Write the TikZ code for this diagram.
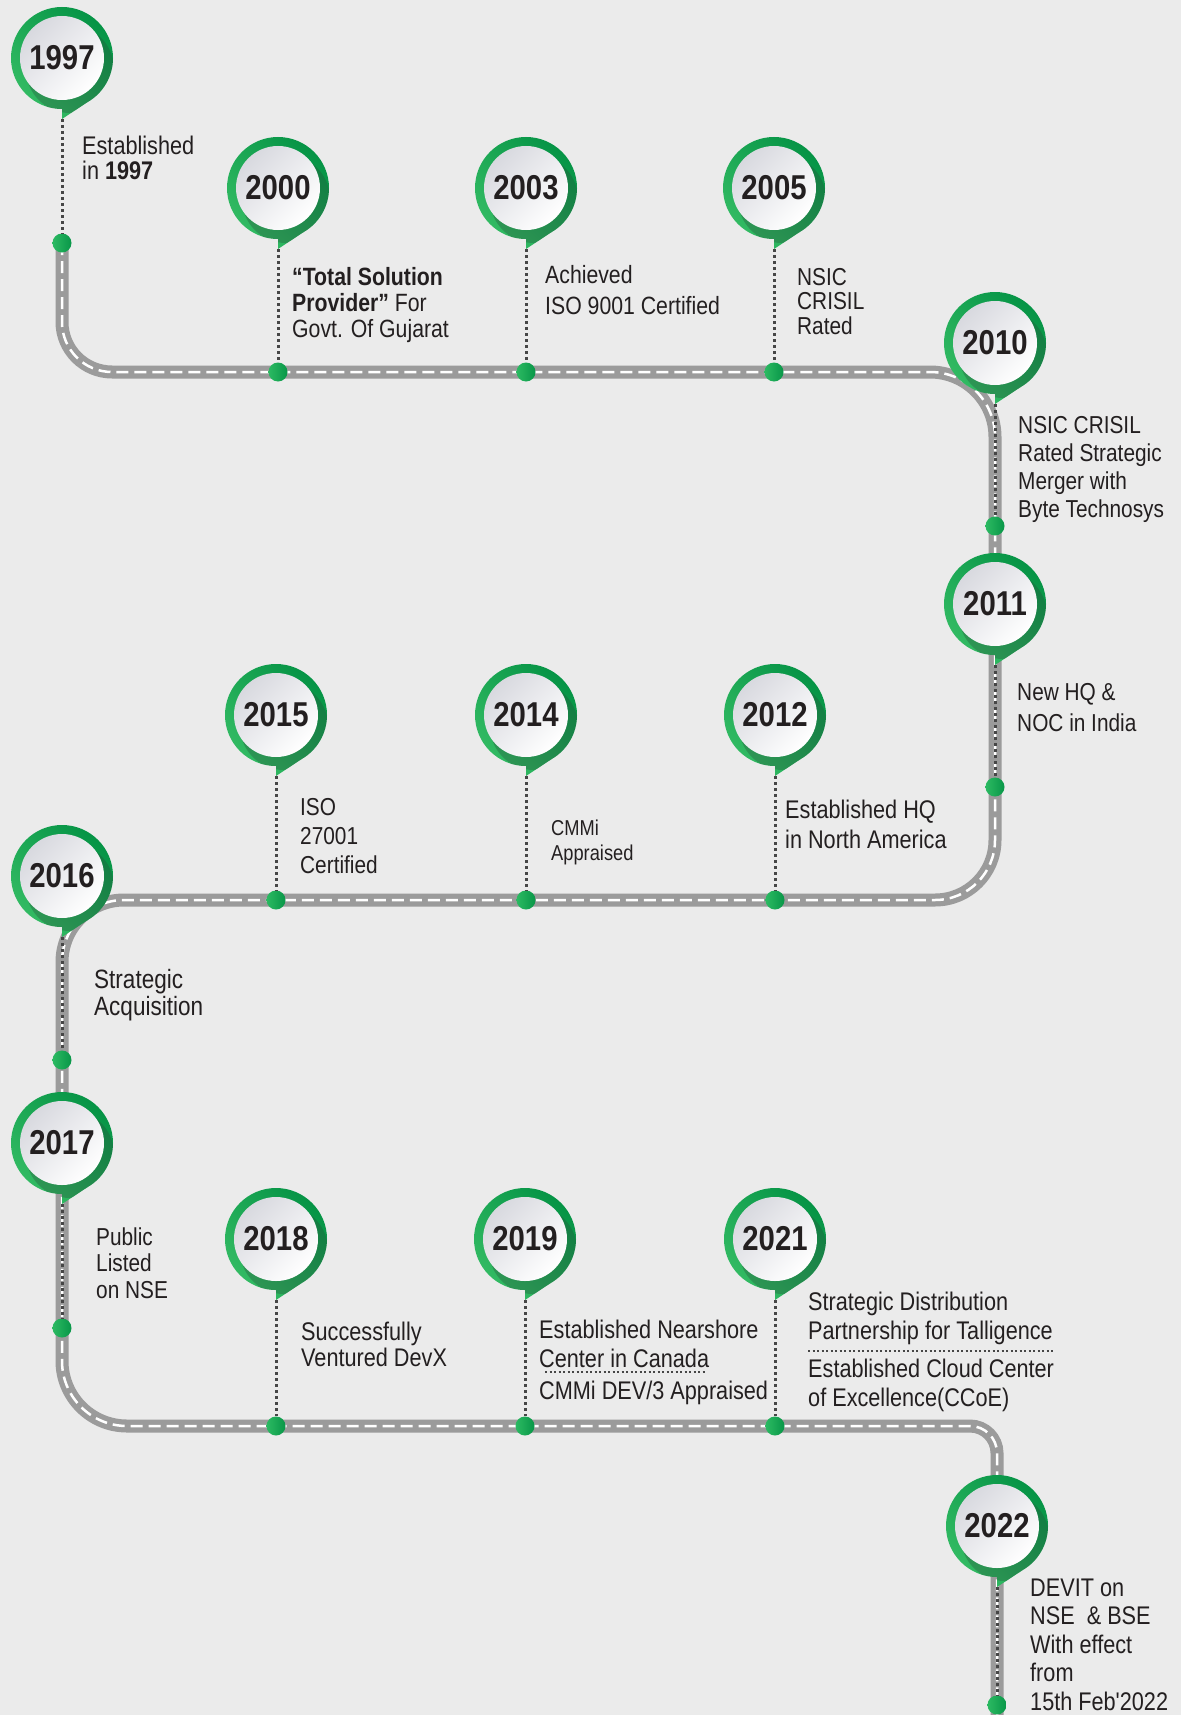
\documentclass[tikz,border=0pt]{standalone}
\usepackage{fontspec}
\setmainfont{Liberation Sans}[FakeStretch=0.85, Ligatures=TeXOff]
\definecolor{bg}{RGB}{235,235,235}
\definecolor{roadc}{RGB}{155,155,155}
\definecolor{pinL}{RGB}{52,188,100}
\definecolor{pinR}{RGB}{6,148,70}
\definecolor{dotL}{RGB}{44,186,98}
\definecolor{dotR}{RGB}{8,150,72}
\definecolor{txt}{RGB}{35,31,32}
\definecolor{dotc}{RGB}{70,70,70}
\definecolor{wtop}{RGB}{216,217,223}
\definecolor{shadowc}{RGB}{40,70,55}
\newcommand{\fsz}[2]{\fontsize{#1}{#2}\selectfont}
\newcommand{\pinoutline}{(0,-61) -- (0,-51) arc[start angle=270,end angle=-60,radius=51] -- cycle}
\newcommand{\yearpin}[3]{%
 \begin{scope}[shift={(#2,-#3)}]
  \shade[top color=pinL, bottom color=pinR, shading angle=135] \pinoutline;
  \begin{scope}
   \clip \pinoutline;
   \fill[shadowc, opacity=0.30] (8,-11) circle[radius=44];
  \end{scope}
  \shade[top color=wtop, bottom color=white, shading angle=45] (0,0) circle[radius=42];
  \node[yearlbl] (y#1) at (0,0) {#1};
  \coordinate (t#1) at (0,-61);
 \end{scope}}
\tikzset{
 roadbase/.style={draw=roadc, line width=13pt},
 roaddash/.style={draw=white, line width=2.5pt, dash pattern=on 12pt off 6pt},
 dotlink/.style={draw=dotc, line width=3pt, dash pattern=on 3pt off 3pt},
 sepline/.style={draw=dotc, line width=1.2pt, dash pattern=on 2pt off 2.5pt},
 dotnode/.style={circle, minimum size=19pt, inner sep=0pt, left color=dotL, right color=dotR},
 yearlbl/.style={font=\bfseries\fsz{34.5}{34.5}, text=txt, inner sep=0pt},
 lbl/.style={anchor=base west, align=left, inner sep=0pt, text=txt}
}
\begin{document}
\begin{tikzpicture}[x=1pt,y=1pt]
\useasboundingbox (0,0) rectangle (1181,-1715);
\fill[bg] (0,0) rectangle (1181,-1715);
% road
\newcommand{\roadpath}{(62,-243) -- (62,-322) arc[start angle=180,end angle=270,radius=50]
 -- (930,-372) arc[start angle=90,end angle=0,radius=65]
 -- (995,-840) arc[start angle=0,end angle=-90,radius=60]
 -- (124,-900) arc[start angle=90,end angle=180,radius=62]
 -- (62,-1361) arc[start angle=180,end angle=270,radius=65]
 -- (970,-1426) arc[start angle=90,end angle=0,radius=27]
 -- (997,-1730)}
\path[roadbase] \roadpath;
\path[roaddash] \roadpath;
% pins
\yearpin{1997}{62}{58}
\yearpin{2000}{278}{188}
\yearpin{2003}{526}{188}
\yearpin{2005}{774}{188}
\yearpin{2010}{995}{343}
\yearpin{2011}{995}{604}
\yearpin{2015}{276}{715}
\yearpin{2014}{526}{715}
\yearpin{2012}{775}{715}
\yearpin{2016}{62}{876}
\yearpin{2017}{62}{1143}
\yearpin{2018}{276}{1239}
\yearpin{2019}{525}{1239}
\yearpin{2021}{775}{1239}
\yearpin{2022}{997}{1526}
% dots
\node[dotnode] (d1997) at (62,-243) {};
\node[dotnode] (d2000) at (278,-372) {};
\node[dotnode] (d2003) at (526,-372) {};
\node[dotnode] (d2005) at (774,-372) {};
\node[dotnode] (d2010) at (995,-526) {};
\node[dotnode] (d2011) at (995,-787) {};
\node[dotnode] (d2015) at (276,-900) {};
\node[dotnode] (d2014) at (526,-900) {};
\node[dotnode] (d2012) at (775,-900) {};
\node[dotnode] (d2016) at (62,-1060) {};
\node[dotnode] (d2017) at (62,-1328) {};
\node[dotnode] (d2018) at (276,-1426) {};
\node[dotnode] (d2019) at (525,-1426) {};
\node[dotnode] (d2021) at (775,-1426) {};
\node[dotnode] (d2022) at (997,-1705) {};
% dotted links
\foreach \yr in {1997,2000,2003,2005,2010,2011,2015,2014,2012,2016,2017,2018,2019,2021,2022}
 \path[dotlink] (t\yr) -- (d\yr.north);
% texts (anchored at the baseline of their last line)
\node[lbl, font=\fsz{25.5}{25}] (l1997) at (82,-180) {Established\\in \textbf{1997}};
\node[lbl, font=\fsz{25}{26}] (l2000) at (292,-337) {\textbf{“Total Solution}\\\textbf{Provider”} For\\Govt. Of Gujarat};
\node[lbl, font=\fsz{25}{31}] (l2003) at (545,-314) {Achieved\\ISO 9001 Certified};
\node[lbl, font=\fsz{24.5}{24.5}] (l2005) at (797,-334) {NSIC\\CRISIL\\Rated};
\node[lbl, font=\fsz{24.5}{28}] (l2010) at (1018,-517) {NSIC CRISIL\\Rated Strategic\\Merger with\\Byte Technosys};
\node[lbl, font=\fsz{24.5}{31}] (l2011) at (1017,-731) {New HQ \&\\NOC in India};
\node[lbl, font=\fsz{24.5}{29}] (l2015) at (300,-873) {ISO\\27001\\Certified};
\node[lbl, font=\fsz{21.5}{25}] (l2014) at (551,-860) {CMMi\\Appraised};
\node[lbl, font=\fsz{25.5}{30}] (l2012) at (785,-848) {Established HQ\\in North America};
\node[lbl, font=\fsz{26.5}{27}] (l2016) at (94,-1015) {Strategic\\Acquisition};
\node[lbl, font=\fsz{24.5}{26.5}] (l2017) at (96,-1298) {Public\\Listed\\on NSE};
\node[lbl, font=\fsz{25.5}{26}] (l2018) at (301,-1366) {Successfully\\Ventured DevX};
\node[lbl, font=\fsz{25.5}{29}] (l2019) at (539,-1399) {Established Nearshore\\Center in Canada\\[3pt]CMMi DEV/3 Appraised};
\node[lbl, font=\fsz{25.5}{29}] (l2021) at (808,-1406) {Strategic Distribution\\Partnership for Talligence\\[9pt]Established Cloud Center\\of Excellence(CCoE)};
\node[lbl, font=\fsz{25.5}{28.5}] (l2022) at (1030,-1710) {DEVIT on\\NSE\ \ \& BSE\\With effect\\from\\15th Feb'2022};
% separators
\coordinate (s19a) at (545,-1372);
\coordinate (s19b) at (705,-1372);
\coordinate (s21a) at (808,-1351);
\coordinate (s21b) at (1055,-1351);
\path[sepline] (s19a) -- (s19b);
\path[sepline] (s21a) -- (s21b);
\end{tikzpicture}
\end{document}
